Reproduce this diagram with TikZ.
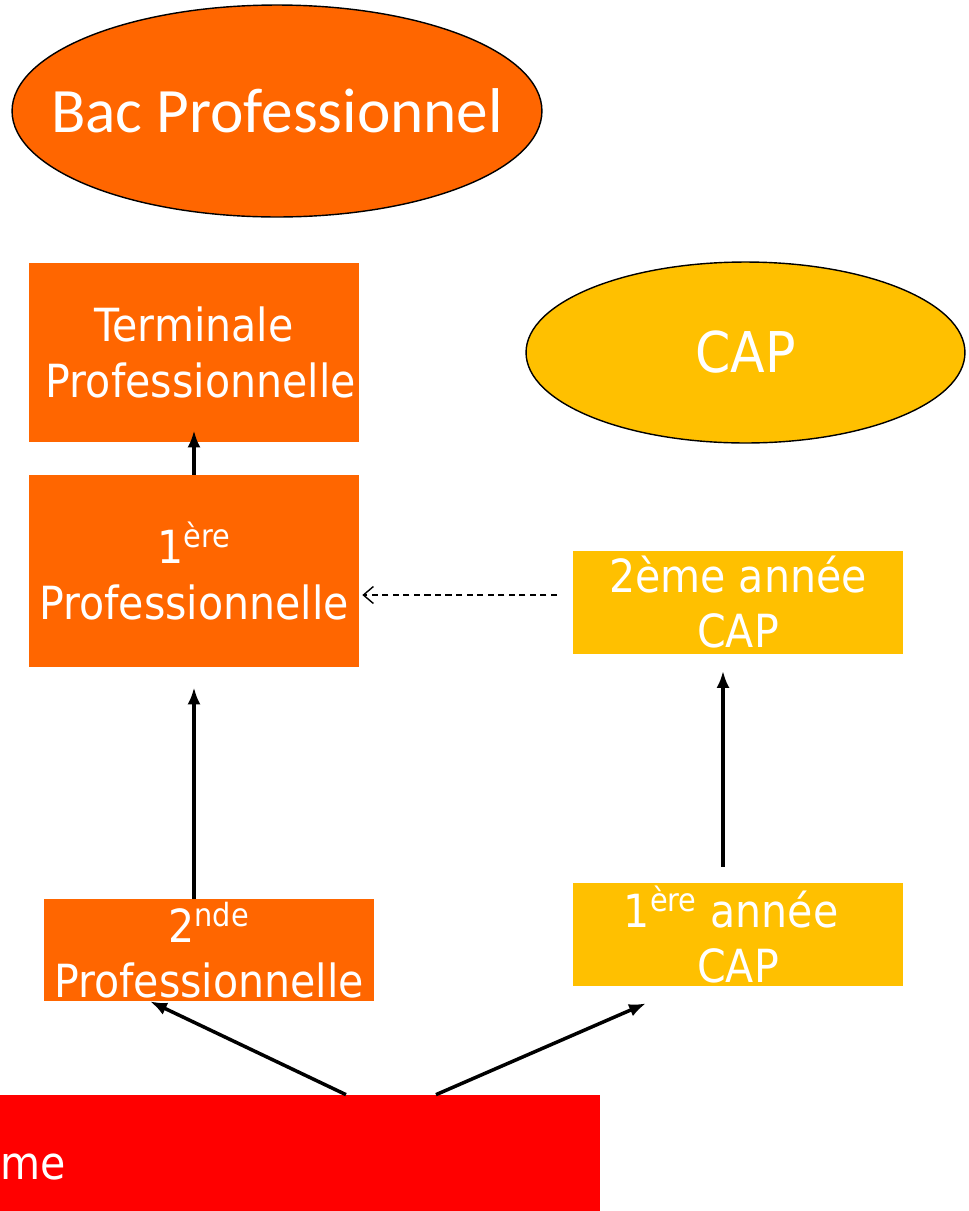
\documentclass[tikz,border=0pt]{standalone}
\usepackage{fontspec}
\usetikzlibrary{shapes.geometric,arrows.meta}
\newfontfamily\boxfont[FakeStretch=0.9]{DejaVu Sans}
\newfontfamily\bacfont{Carlito}

\begin{document}
\begin{tikzpicture}[
	x=0.02cm, y=-0.02cm,
	orangebox/.style={fill=proorange, text=white, inner sep=0pt, minimum width=6.6cm, align=center, font=\boxfont\fontsize{26}{31.5}\selectfont},
	capbox/.style={fill=capyellow, text=white, inner sep=0pt, minimum width=6.6cm, minimum height=2.06cm, align=center, font=\boxfont\fontsize{26}{31.5}\selectfont},
	goal/.style={ellipse, draw=black, line width=0.8pt, text=white, inner sep=0pt},
	link/.style={line width=2pt, -{Latex[length=0.34cm, width=0.26cm]}},
	dashlink/.style={line width=0.8pt, dash pattern=on 3.5pt off 2.5pt, -{Straight Barb[length=0.2cm, width=0.34cm]}}
	]
		\definecolor{proorange}{RGB}{255, 102, 0}
		\definecolor{capyellow}{RGB}{255, 192, 0}
		\definecolor{redbox}{RGB}{255, 0, 0}
	\useasboundingbox (0, 0) rectangle (969, 1211);

	% goals
	\node [goal, fill=proorange, minimum width=10.6cm, minimum height=4.24cm, font=\bacfont\fontsize{36}{40}\selectfont] (bac) at (277, 111) {\makebox[0pt]{Bac Professionnel}};
	\node [goal, fill=capyellow, minimum width=8.78cm, minimum height=3.62cm, font=\boxfont\fontsize{32}{36}\selectfont] (capgoal) at (745.5, 352.5) {\makebox[0pt]{CAP}};

	% bac pro track
	\node [orangebox, minimum height=3.58cm] (term) at (194, 352.5) {Terminale\\\hspace*{0.3em}Professionnelle};
	\node [orangebox, minimum height=3.84cm] (prem1) at (194, 571) {1\textsuperscript{ère}\\Professionnelle};
	\node [orangebox, minimum height=2.04cm] (sec) at (209, 950) {2\textsuperscript{nde}\\Professionnelle};

	% cap track
	\node [capbox] (cap2) at (738, 602) {2ème année\\CAP};
	\node [capbox] (cap1) at (738, 934.5) {1\textsuperscript{ère} année\hspace*{0.3em}\\CAP};

	% start
	\node [fill=redbox, text=white, minimum width=12cm, minimum height=2.88cm, text width=12cm, align=left, inner sep=0pt, font=\boxfont\fontsize{26}{31.5}\selectfont] (red) at (300, 1167) {me};

	% arrows
	\draw [link, shorten >=-0.24cm] (prem1.north) -- (term.south);
	\draw [link, shorten >=0.4cm] (prem1.south |- sec.north) -- (prem1.south);
	\draw [link, shorten <=0.32cm, shorten >=0.34cm] ([xshift=-0.3cm]cap1.north) -- ([xshift=-0.3cm]cap2.south);
	\draw [link] ([xshift=0.92cm]red.north) -- ([xshift=-1.18cm]sec.south);
	\draw [link] ([xshift=2.72cm]red.north) -- ([xshift=-1.84cm, yshift=-0.34cm]cap1.south);
	\coordinate (dashstart) at (557, 595);
	\draw [dashlink, shorten >=0.06cm] (dashstart) -- (dashstart -| prem1.east);
\end{tikzpicture}
\end{document}
